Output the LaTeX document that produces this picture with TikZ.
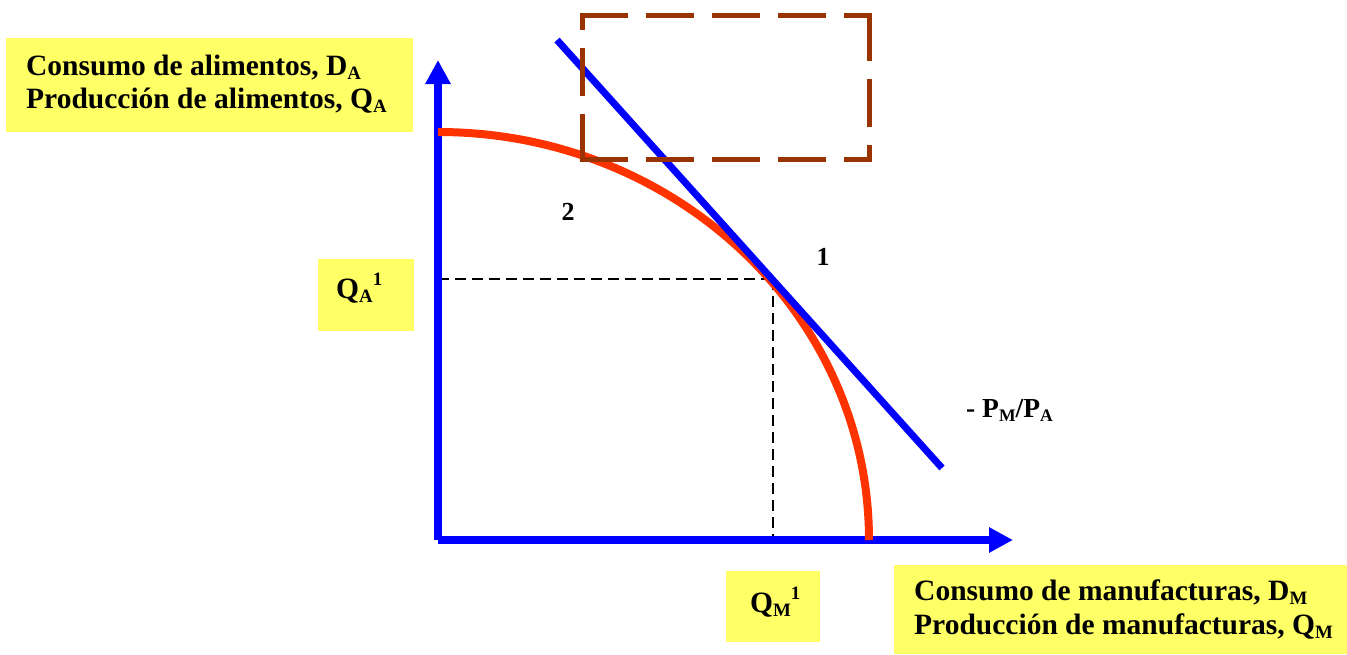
\documentclass[tikz,border=0pt]{standalone}
\usepackage{fontspec}
\setmainfont{Liberation Serif}
\usetikzlibrary{arrows.meta}
\definecolor{ylw}{HTML}{FFFF66}
\definecolor{axblue}{HTML}{0000FF}
\definecolor{ppfred}{HTML}{FF3300}
\definecolor{boxbrown}{HTML}{993300}
\newcommand\lsub[1]{\raisebox{-0.32ex}{\scalebox{0.64}{#1}}}
\newcommand\lsup[1]{\raisebox{0.95ex}{\scalebox{0.64}{#1}}}
\begin{document}
\begin{tikzpicture}[x=1pt,y=1pt,
  ybox/.style={fill=ylw,draw=none,inner sep=0,anchor=north west},
  lbl/.style={inner sep=0,anchor=base west,font=\fontsize{29.5}{33}\selectfont\bfseries},
  num/.style={inner sep=0,font=\fontsize{26}{28}\selectfont\bfseries},
  axis/.style={axblue,line width=8,-{Triangle[length=24,width=24]}},
  guide/.style={black,line width=1.4,dash pattern=on 11 off 6},
  brownbox/.style={boxbrown,line width=5,line cap=rect,dash pattern=on 43 off 23}]
\useasboundingbox (0,0) rectangle (1347,-654);

% yellow label boxes
\node[ybox,minimum width=407,minimum height=94] (tlbox) at (6,-38) {};
\node[ybox,minimum width=96,minimum height=72] (qabox) at (318,-259) {};
\node[ybox,minimum width=94,minimum height=71] (qmbox) at (726,-571) {};
\node[ybox,minimum width=453,minimum height=89] (brbox) at (894,-565) {};

\node[lbl] (tl1) at (26,-75) {Consumo de alimentos, D\lsub{A}};
\node[lbl] (tl2) at (26,-108) {Producción de alimentos, Q\lsub{A}};
\node[lbl] (qa) at (336,-298) {Q\lsub{A}\lsup{1}};
\node[lbl] (qm) at (750,-612) {Q\lsub{M}\lsup{1}};
\node[lbl] (br1) at (914,-600) {Consumo de manufacturas, D\lsub{M}};
\node[lbl] (br2) at (914,-634) {Producción de manufacturas, Q\lsub{M}};

% coordinates
\coordinate (O) at (438,-540);
\coordinate (ytip) at (438,-60);
\coordinate (xtip) at (1013,-540);
\coordinate (ppftop) at (438,-132);
\coordinate (P1) at (773,-279);
\coordinate (P1y) at (438,-279);
\coordinate (P1x) at (773,-540);
\coordinate (la) at (557,-40);
\coordinate (lb) at (942,-468);

% guide lines
\draw[guide] (P1y) -- (P1);
\draw[guide] (P1) -- (P1x);

% axes
\draw[axis] (O) -- (ytip);
\draw[axis] (O) -- (xtip);

% production possibility frontier
\draw[ppfred,line width=8] (ppftop) arc[start angle=90,end angle=0,x radius=431,y radius=408];

% price line
\draw[axblue,line width=7] (la) -- (lb);

% dashed box
\coordinate (bbl) at (582,-159);
\coordinate (btl) at (582,-15);
\coordinate (btr) at (869,-15);
\coordinate (bbr) at (869,-159);
\draw[brownbox] (bbl) -- (btl);
\draw[brownbox] (btl) -- (btr);
\draw[brownbox] (btr) -- (bbr);
\draw[brownbox] (bbl) -- (bbr);

% point labels
\node[num] (n2) at (568,-212) {2};
\node[num] (n1) at (823,-257) {1};
\node[inner sep=0,anchor=base west,font=\fontsize{27.5}{30}\selectfont\bfseries] (slope) at (966,-417) {- P\lsub{M}/P\lsub{A}};
\end{tikzpicture}
\end{document}
